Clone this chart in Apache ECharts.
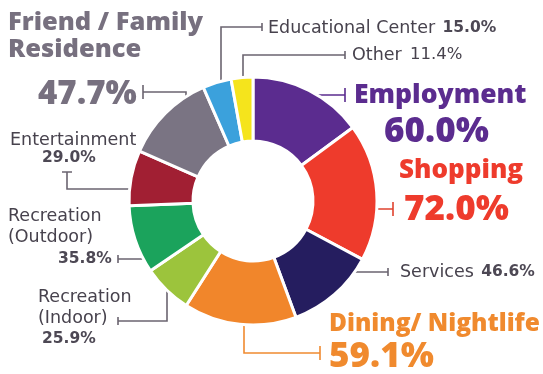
<!DOCTYPE html>
<html>
<head>
<meta charset="utf-8">
<script src="https://cdn.jsdelivr.net/npm/echarts@6/dist/echarts.min.js"></script>
<style>
  html, body { margin: 0; padding: 0; background: #ffffff; }
  #chart { width: 543px; height: 374px; }
</style>
</head>
<body>
<div id="chart"></div>
<script>
// Trip purposes and their shares (percent)
const categories = ['Employment', 'Shopping', 'Services', 'Dining/ Nightlife', 'Recreation (Indoor)',
  'Recreation (Outdoor)', 'Entertainment', 'Friend / Family Residence', 'Educational Center', 'Other'];
const shares = [60.0, 72.0, 46.6, 59.1, 25.9, 35.8, 29.0, 47.7, 15.0, 11.4];
// How each category name is broken into lines in its label
const labelNameLines = [['Employment'], ['Shopping'], ['Services'], ['Dining/ Nightlife'],
  ['Recreation', '(Indoor)'], ['Recreation', '(Outdoor)'], ['Entertainment'],
  ['Friend / Family', 'Residence'], ['Educational Center'], ['Other']];
const sliceColors = ['#5b2c8f', '#ee3b2c', '#251d5f', '#f1862b', '#9cc43c',
  '#1ba35c', '#a11f33', '#7a7483', '#3ba1dc', '#f5e41c'];

// Ring geometry in pixels
const CX = 253, CY = 201, R_IN = 60, R_OUT = 124;

const TITLE_FONT = 'Open Sans';
const BODY_FONT = 'DejaVu Sans';
const BODY_SIZE = 17.5;
const TEXT_GREY = '#47424d';
const VALUE_GREY = '#4d4854';
const LINE_GREY = '#6b6470';

// Point on the outer edge of the ring along a vertical (x given) or horizontal (y given) line
function ringX(y, side) { return CX + side * Math.sqrt(R_OUT * R_OUT - (y - CY) * (y - CY)); }
function ringY(x, side) { return CY + side * Math.sqrt(R_OUT * R_OUT - (x - CX) * (x - CX)); }

// Label placement and leader routes (cap = short bar at the text end)
const labelPlacement = [
  { kind: 'big', x: 354, y: 80, titleH: 30, valueH: 44, indent: 30, titleSize: 26.5, valueSize: 35,
    lineColor: '#5b2c8f', route: () => [[ringX(95, 1) - 2, 95], [345, 95], [345, 88], [345, 102]] },
  { kind: 'big', x: 399, y: 156, titleH: 30, valueH: 48, indent: 5, titleSize: 26, valueSize: 35,
    lineColor: '#e0432f', route: () => [[ringX(209, 1) - 2, 209], [393, 209], [393, 202], [393, 216]] },
  { kind: 'inline', x: 400, y: 272,
    lineColor: LINE_GREY, route: () => [[ringX(272, 1) - 2, 272], [388, 272], [388, 268], [388, 276]] },
  { kind: 'big', x: 329, y: 309, titleH: 30, valueH: 36, indent: 0, titleSize: 24.5, valueSize: 35,
    lineColor: '#f08a30', route: () => [[244, ringY(244, 1) - 2], [244, 353], [320, 353], [320, 346], [320, 360]] },
  { kind: 'stack', x: 38, y: 287.5, lineH: 20.5, indent: 4,
    lineColor: LINE_GREY, route: () => [[167, ringY(167, 1) - 2], [167, 321], [118, 321], [118, 317], [118, 325]] },
  { kind: 'stack', x: 8, y: 206, lineH: 21, indent: 50,
    lineColor: LINE_GREY, route: () => [[ringX(259, -1) + 2, 259], [118, 259], [118, 255], [118, 263]] },
  { kind: 'stack', x: 10, y: 131, lineH: 18, indent: 32,
    lineColor: LINE_GREY, route: () => [[ringX(189, -1) + 2, 189], [67, 189], [67, 172], [62, 172], [72, 172]] },
  { kind: 'big', x: 8, y: 9.5, titleH: 27, valueH: 63, indent: 30, titleSize: 25.5, valueSize: 33,
    lineColor: LINE_GREY, route: () => [[186, ringY(186, -1) + 2], [186, 92], [143, 92], [143, 85], [143, 99]] },
  { kind: 'inline', x: 268, y: 28,
    lineColor: LINE_GREY, route: () => [[221, ringY(221, -1) + 2], [221, 27], [262, 27], [262, 23], [262, 31]] },
  { kind: 'inline', x: 352, y: 55, plainValue: true,
    lineColor: LINE_GREY, route: () => [[243, ringY(243, -1) + 2], [243, 55], [345, 55], [345, 51], [345, 59]] }
];

function pct(v) { return v.toFixed(1) + '%'; }

function buildLabel(i) {
  const p = labelPlacement[i];
  const names = labelNameLines[i];
  const value = pct(shares[i]);
  if (p.kind === 'big') {
    const c = sliceColors[i];
    const color = i === 7 ? '#77707f' : (i === 1 ? '#ee3b2c' : (i === 3 ? '#f08a2e' : c));
    return {
      formatter: names.map(n => '{t|' + n + '}').join('\n') + '\n{v|' + value + '}',
      rich: {
        t: { fontFamily: TITLE_FONT, fontWeight: 800, fontSize: p.titleSize, lineHeight: p.titleH, color: color },
        v: { fontFamily: TITLE_FONT, fontWeight: 800, fontSize: p.valueSize, lineHeight: p.valueH, color: color,
             padding: [0, 0, 0, p.indent] }
      }
    };
  }
  if (p.kind === 'stack') {
    return {
      formatter: names.map(n => '{n|' + n + '}').join('\n') + '\n{b|' + value + '}',
      rich: {
        n: { fontFamily: BODY_FONT, fontSize: BODY_SIZE, lineHeight: p.lineH, color: TEXT_GREY },
        b: { fontFamily: BODY_FONT, fontWeight: 'bold', fontSize: 15.5, lineHeight: p.lineH, color: VALUE_GREY,
             padding: [0, 0, 0, p.indent] }
      }
    };
  }
  return {
    formatter: '{n|' + names[0] + '} {' + (p.plainValue ? 'm' : 'b') + '|' + value + '}',
    rich: {
      n: { fontFamily: BODY_FONT, fontSize: BODY_SIZE, lineHeight: 20, color: TEXT_GREY },
      m: { fontFamily: BODY_FONT, fontSize: 16.5, lineHeight: 20, color: TEXT_GREY, padding: [0, 0, 0, 5] },
      b: { fontFamily: BODY_FONT, fontWeight: 'bold', fontSize: 15.5, lineHeight: 20, color: VALUE_GREY,
           padding: [0, 0, 0, 4] }
    }
  };
}

const pieData = categories.map((name, i) => ({
  name: name,
  value: shares[i],
  itemStyle: { color: sliceColors[i] },
  label: buildLabel(i),
  labelLine: { lineStyle: { color: labelPlacement[i].lineColor, width: 1.6 } }
}));

const chart = echarts.init(document.getElementById('chart'), null, { renderer: 'canvas' });
chart.setOption({
  backgroundColor: '#ffffff',
  animation: false,
  series: [{
    type: 'pie',
    center: [CX, CY],
    radius: [R_IN, R_OUT],
    startAngle: 90,
    clockwise: true,
    avoidLabelOverlap: false,
    minShowLabelAngle: 0,
    itemStyle: { borderColor: '#ffffff', borderWidth: 3 },
    label: { show: true, position: 'outside' },
    labelLine: { show: true, smooth: false, length: 10, length2: 10 },
    labelLayout: function (params) {
      const p = labelPlacement[params.dataIndex];
      const multi = p.kind !== 'inline';
      return {
        x: p.x,
        y: p.y,
        align: 'left',
        verticalAlign: multi ? 'top' : 'middle',
        labelLinePoints: p.route()
      };
    },
    data: pieData
  }]
});
</script>
</body>
</html>
